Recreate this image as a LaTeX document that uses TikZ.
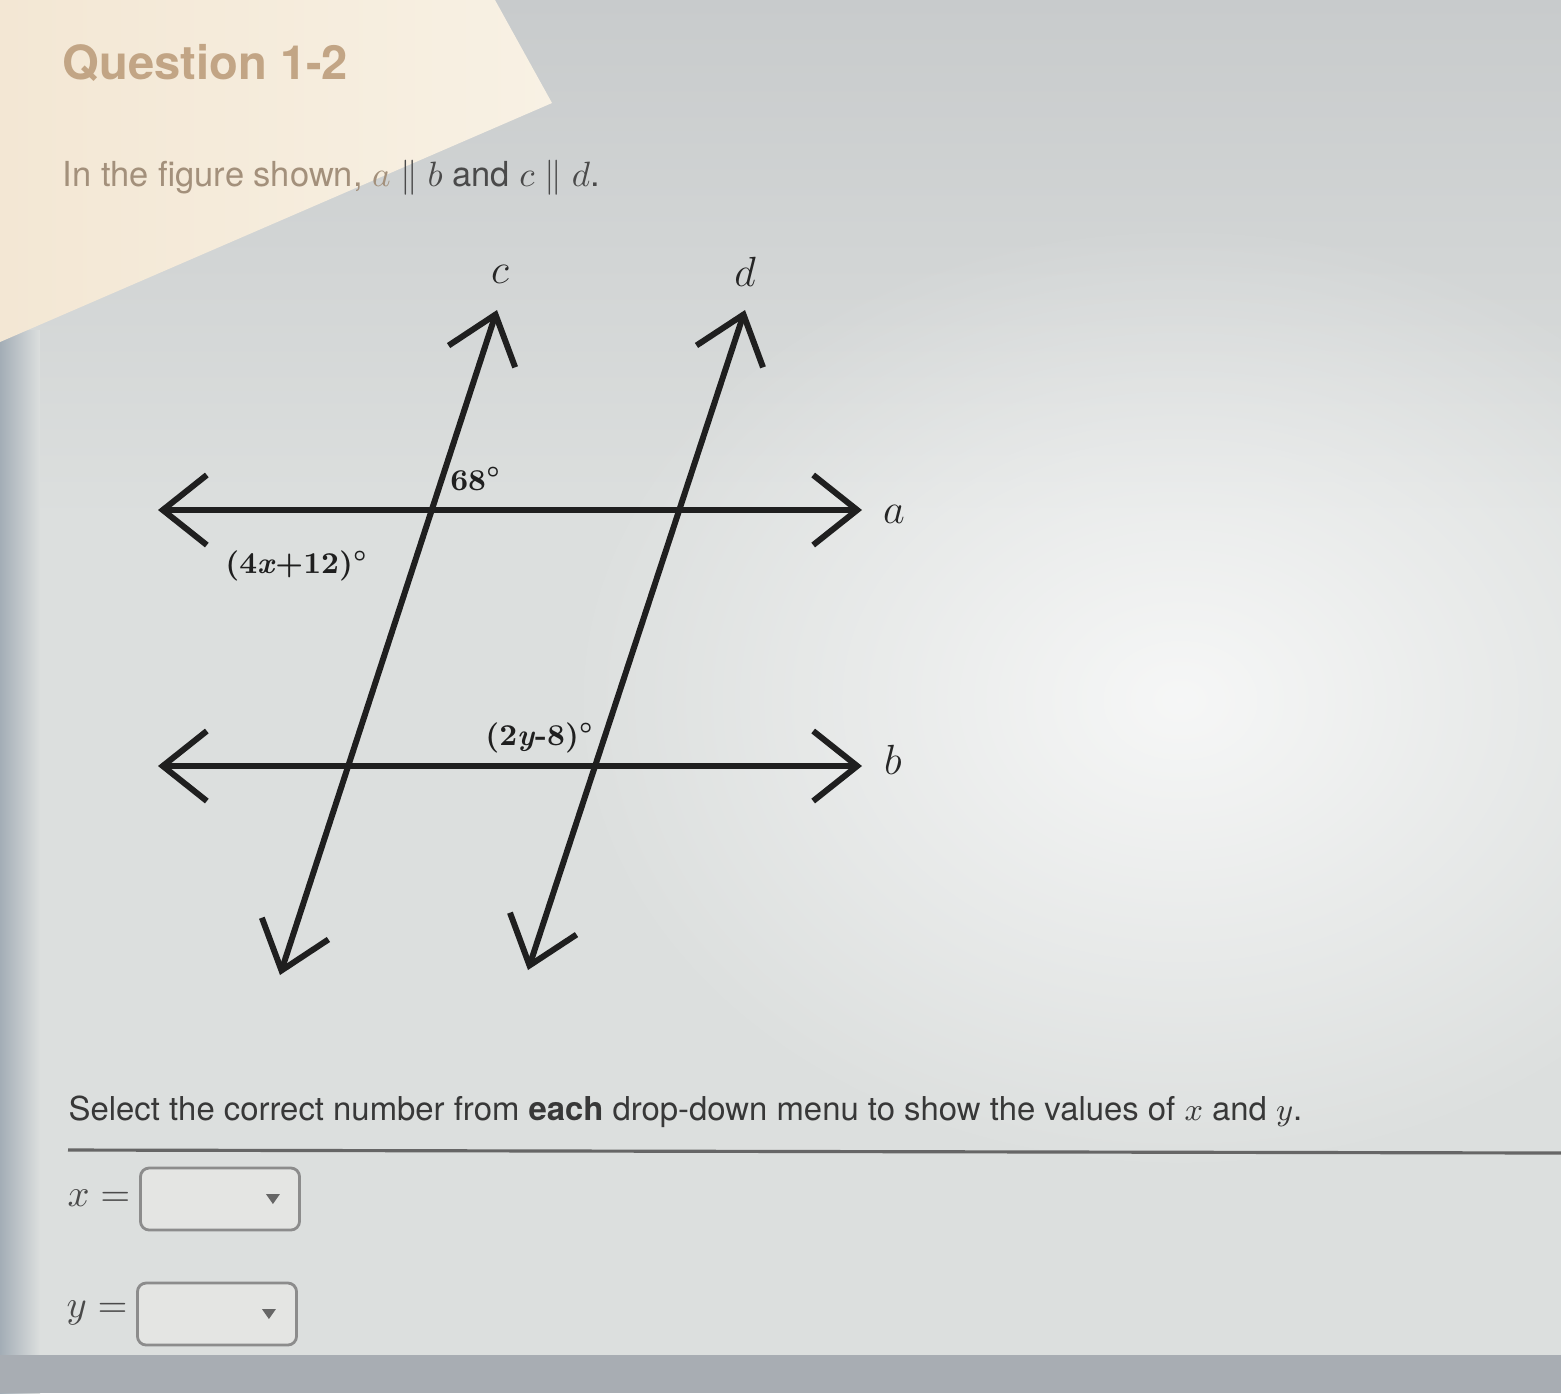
\documentclass[tikz,border=0pt]{standalone}
\usepackage{fontspec}
\usepackage{bm}
\newfontfamily\uifont{TeX Gyre Heros}
\usetikzlibrary{arrows.meta,positioning,fadings}

\definecolor{pagegray}{HTML}{DCDFDE}
\definecolor{topgray}{HTML}{C8CBCC}
\definecolor{creamA}{HTML}{F3E7D4}
\definecolor{creamB}{HTML}{F8F1E4}
\definecolor{edgegray}{HTML}{A3ADB6}
\definecolor{footgray}{HTML}{A8ADB3}
\definecolor{qtan}{HTML}{C2A585}
\definecolor{ptan}{HTML}{A3907B}
\definecolor{inkgray}{HTML}{4A4A4A}
\definecolor{boxgray}{HTML}{8C8C8C}
\definecolor{boxfill}{HTML}{E4E5E3}

\tikzfading[name=glow, inner color=transparent!0, outer color=transparent!100]

\tikzset{
  line/.style={line width=1.7pt, black!88,
    {Straight Barb[length=4.4mm,width=7mm]}-{Straight Barb[length=4.4mm,width=7mm]}},
  linename/.style={font=\fontsize{12}{14}\selectfont, text=black!85},
  angle/.style={font=\fontsize{8.6}{10}\selectfont\bfseries, text=black!88},
  menu/.style={draw=boxgray, fill=boxfill, rounded corners=2.5pt, line width=0.8pt,
    minimum width=1.59cm, minimum height=0.62cm},
}

\begin{document}
\begin{tikzpicture}[x=0.01cm, y=-0.01cm]
\useasboundingbox (0,0) rectangle (1561,1393);

% photo background
\fill[pagegray] (0,0) rectangle (1561,1393);
\shade[top color=topgray, bottom color=pagegray] (0,0) rectangle (1561,520);
\fill[white, path fading=glow, opacity=.75] (1180,700) ellipse (620 and 480);
\shade[left color=edgegray, right color=pagegray] (0,330) rectangle (40,1393);
\fill[footgray] (0,1355) rectangle (1561,1393);
\shade[left color=creamA, right color=creamB] (0,0) -- (495,0) -- (552,103) -- (0,342) -- cycle;

% question text
\node[anchor=base west, font=\uifont\bfseries\fontsize{13.4}{16}\selectfont, text=qtan, inner sep=0]
  (title) at (62,79) {Question 1-2};
\node[anchor=base west, font=\uifont\fontsize{9.8}{12}\selectfont, text=inkgray, inner sep=0]
  (prompt) at (62,186) {{\color{ptan}In the figure shown, $a$} $\parallel b$ and $c \parallel d$.};

% the four lines
\coordinate (cTop) at (497,310);
\coordinate (cBot) at (280,975);
\coordinate (dTop) at (745,310);
\coordinate (dBot) at (528,970);
\coordinate (aLeft) at (158,510);
\coordinate (aRight) at (862,510);
\coordinate (bLeft) at (158,766);
\coordinate (bRight) at (862,766);

\draw[line] (aLeft) -- (aRight);
\draw[line] (bLeft) -- (bRight);
\draw[line] (cBot) -- (cTop);
\draw[line] (dBot) -- (dTop);

\node[linename] (cName) at (500,274) {$c$};
\node[linename] (dName) at (745,272) {$d$};
\node[linename] (aName) at (894,514) {$a$};
\node[linename] (bName) at (893,760) {$b$};

\node[angle] (ang1) at (476,479) {68$^{\bm{\scriptscriptstyle\circ}}$};
\node[angle] (ang2) at (297,566) {(4\textit{x}+12)$^{\bm{\scriptscriptstyle\circ}}$};
\node[angle] (ang3) at (540,738) {(2\textit{y}-8)$^{\bm{\scriptscriptstyle\circ}}$};

% answer part
\node[anchor=base west, font=\uifont\fontsize{9.35}{12}\selectfont, text=black!78, inner sep=0]
  (select) at (68,1120) {Select the correct number from \textbf{each} drop-down menu to show the values of $x$ and $y$.};
\coordinate (ruleL) at (68,1150);
\coordinate (ruleR) at (1561,1153);
\draw[black!60, line width=0.9pt] (ruleL) -- (ruleR);

\node[font=\fontsize{11}{13}\selectfont, text=inkgray] (xeq) at (99,1198) {$x =$};
\node[menu] (xbox) at (220,1199) {};
\fill[black!60] ([xshift=-0.28cm]xbox.east) ++(-7,-5) -- ++(14,0) -- ++(-7,10) -- cycle;

\node[font=\fontsize{11}{13}\selectfont, text=inkgray] (yeq) at (97,1313) {$y =$};
\node[menu] (ybox) at (217,1314) {};
\fill[black!60] ([xshift=-0.29cm]ybox.east) ++(-7,-5) -- ++(14,0) -- ++(-7,10) -- cycle;
\end{tikzpicture}
\end{document}
